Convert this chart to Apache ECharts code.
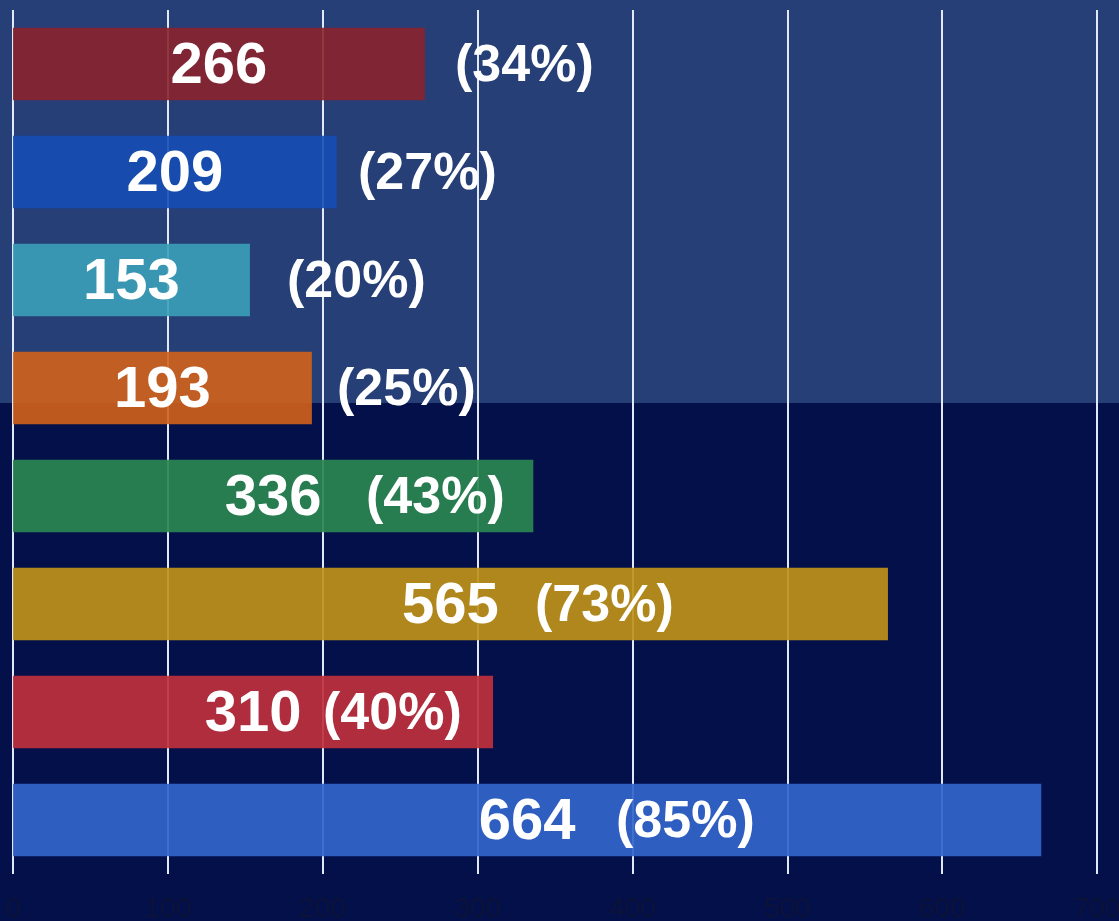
<!DOCTYPE html>
<html>
<head>
<meta charset="utf-8">
<script src="https://cdn.jsdelivr.net/npm/echarts@6/dist/echarts.min.js"></script>
<style>
html,body{margin:0;padding:0;width:1119px;height:921px;overflow:hidden;}
#chart{width:1119px;height:921px;background:linear-gradient(to bottom,#263f77 0px,#263f77 403px,#03104a 403px,#03104a 921px);}
</style>
</head>
<body>
<div id="chart"></div>
<script>
// ---- data ----
var categories = ['1', '2', '3', '4', '5', '6', '7', '8'];
var values = [266, 209, 153, 193, 336, 565, 310, 664];
var percents = ['34%', '27%', '20%', '25%', '43%', '73%', '40%', '85%'];
var xTicks = [0, 100, 200, 300, 400, 500, 600, 700];

// ---- styles ----
var barColors = [
  'rgba(138,34,44,0.9)', 'rgba(22,76,178,0.9)', 'rgba(60,160,184,0.9)', 'rgba(210,98,26,0.9)',
  'rgba(42,134,80,0.92)', 'rgba(190,145,24,0.92)', 'rgba(190,48,60,0.92)', 'rgba(50,101,202,0.92)'
];
var pctLabelShiftPx = [442, 345, 274, 324, 353, 522, 310, 603];

var chart = echarts.init(document.getElementById('chart'));

var mainData = values.map(function (v, i) {
  return { value: v, itemStyle: { color: barColors[i] } };
});
var pctData = values.map(function (v, i) {
  return { value: v, label: { offset: [pctLabelShiftPx[i], 3] } };
});

chart.setOption({
  backgroundColor: 'transparent',
  animation: false,
  grid: { left: 13, right: 22, top: 10, bottom: 47, containLabel: false, outerBoundsMode: 'none' },
  xAxis: {
    type: 'value',
    min: xTicks[0],
    max: xTicks[xTicks.length - 1],
    interval: 100,
    axisLine: { show: false },
    axisTick: { show: false },
    splitLine: { show: true, lineStyle: { color: '#e2e8f6', width: 2 } },
    axisLabel: {
      color: '#0d1338',
      fontSize: 28,
      fontFamily: 'Liberation Sans, Arial',
      margin: 21,
      showMinLabel: true,
      showMaxLabel: true
    }
  },
  yAxis: {
    type: 'category',
    data: categories,
    inverse: true,
    axisLine: { show: false },
    axisTick: { show: false },
    axisLabel: { show: false },
    splitLine: { show: false }
  },
  series: [
    {
      type: 'bar',
      data: mainData,
      barCategoryGap: '33%',
      label: {
        show: true,
        position: 'inside',
        offset: [0, 3],
        color: '#ffffff',
        fontSize: 58,
        fontWeight: 'bold',
        fontFamily: 'Liberation Sans, Arial'
      }
    },
    {
      type: 'bar',
      data: pctData,
      barGap: '-100%',
      barCategoryGap: '33%',
      silent: true,
      itemStyle: { color: 'rgba(0,0,0,0)' },
      z: 5,
      label: {
        show: true,
        position: 'insideLeft',
        distance: 0,
        color: '#ffffff',
        fontSize: 52,
        fontWeight: 'bold',
        fontFamily: 'Liberation Sans, Arial',
        formatter: function (p) { return '(' + percents[p.dataIndex] + ')'; }
      }
    }
  ]
});
</script>
</body>
</html>
